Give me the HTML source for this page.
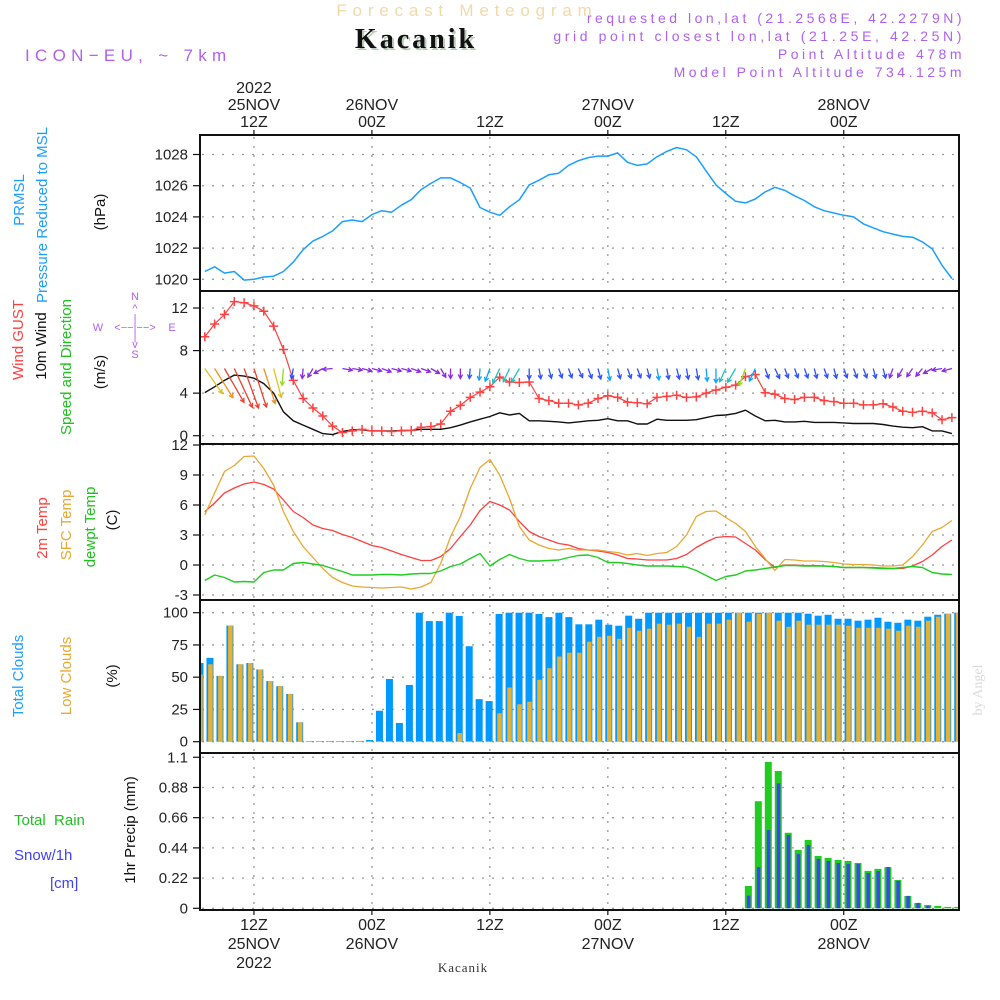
<!DOCTYPE html>
<html><head><meta charset="utf-8">
<style>
html,body{margin:0;padding:0;background:#fff;width:1000px;height:1000px;overflow:hidden}
svg{display:block}
text{font-family:"Liberation Sans",sans-serif}
</style></head>
<body>
<svg id="chart" width="1000" height="1000" viewBox="0 0 1000 1000" xmlns="http://www.w3.org/2000/svg">
<g id="header">
<text x="467" y="16" text-anchor="middle" font-size="17" fill="#f3d9a8" letter-spacing="5.8">Forecast Meteogram</text>
<text x="418" y="50" text-anchor="middle" font-size="28" font-weight="bold" fill="#b8ccb8" style="font-family:'Liberation Serif',serif" letter-spacing="3">Kacanik</text>
<text x="416" y="48" text-anchor="middle" font-size="28" font-weight="bold" fill="#111" style="font-family:'Liberation Serif',serif" letter-spacing="3">Kacanik</text>
<text x="25" y="61" font-size="17" fill="#b060f0" letter-spacing="5.3">ICON−EU, ~ 7km</text>
<text x="965" y="23" text-anchor="end" font-size="14" fill="#b060f0" letter-spacing="3.5">requested lon,lat (21.2568E, 42.2279N)</text>
<text x="965" y="41" text-anchor="end" font-size="14" fill="#b060f0" letter-spacing="3.6">grid point closest lon,lat (21.25E, 42.25N)</text>
<text x="965" y="59" text-anchor="end" font-size="14" fill="#b060f0" letter-spacing="3.5">Point Altitude 478m</text>
<text x="965" y="77" text-anchor="end" font-size="14" fill="#b060f0" letter-spacing="3.5">Model Point Altitude 734.125m</text>
</g>
<g id="leftlabels" font-size="15">
<text transform="translate(24,200) rotate(-90)" text-anchor="middle" fill="#1a9fff">PRMSL</text>
<text transform="translate(47,215) rotate(-90)" text-anchor="middle" fill="#1a9fff">Pressure Reduced to MSL</text>
<text transform="translate(105,212) rotate(-90)" text-anchor="middle" fill="#111">(hPa)</text>
<text transform="translate(23,340) rotate(-90)" text-anchor="middle" fill="#ff4040">Wind GUST</text>
<text transform="translate(46,346) rotate(-90)" text-anchor="middle" fill="#111">10m Wind</text>
<text transform="translate(71,367) rotate(-90)" text-anchor="middle" fill="#20c020">Speed and Direction</text>
<text transform="translate(105,372) rotate(-90)" text-anchor="middle" fill="#111">(m/s)</text>
<g font-size="11" fill="#b060f0" text-anchor="middle">
<text x="135" y="300">N</text><text x="135" y="312">^</text><text x="135" y="322">|</text>
<text x="98" y="331">W</text><text x="135" y="331">&lt;−−|−−&gt;</text><text x="172" y="331">E</text>
<text x="135" y="340">|</text><text x="135" y="348">v</text><text x="135" y="358">S</text>
</g>
<text transform="translate(47,528) rotate(-90)" text-anchor="middle" fill="#ff4040">2m Temp</text>
<text transform="translate(71,525) rotate(-90)" text-anchor="middle" fill="#e8a830">SFC Temp</text>
<text transform="translate(95,527) rotate(-90)" text-anchor="middle" fill="#20c020">dewpt Temp</text>
<text transform="translate(117,520) rotate(-90)" text-anchor="middle" fill="#111">(C)</text>
<text transform="translate(23,676) rotate(-90)" text-anchor="middle" fill="#1a9fff">Total Clouds</text>
<text transform="translate(71,676) rotate(-90)" text-anchor="middle" fill="#e8a830">Low Clouds</text>
<text transform="translate(117,676) rotate(-90)" text-anchor="middle" fill="#111">(%)</text>
<text x="14" y="825" fill="#20c020" xml:space="preserve">Total  Rain</text>
<text x="14" y="860" fill="#4040ff">Snow/1h</text>
<text x="50" y="888" fill="#4040ff">[cm]</text>
<text transform="translate(135,830) rotate(-90)" text-anchor="middle" fill="#111">1hr Precip (mm)</text>
</g>
<text transform="translate(982,690) rotate(-90)" text-anchor="middle" font-size="14" fill="#d8dcd8" style="font-family:'Liberation Serif',serif">by Angel</text>
<text x="463" y="972" text-anchor="middle" font-size="13" fill="#333" style="font-family:'Liberation Serif',serif" letter-spacing="1">Kacanik</text>
<defs>
<clipPath id="plotclip"><rect x="201" y="130" width="757" height="790"/></clipPath>
</defs>
<g id="grid"></g>
<g id="marks" clip-path="url(#plotclip)"></g>
<g id="axes"></g>
</svg>
<script>
// ---- data (hourly from 07Z 25NOV 2022) ----
const timeTickIdx = [5, 17, 29, 41, 53, 65];
const topTickLabels = [["2022","25NOV","12Z"],["26NOV","00Z"],["12Z"],["27NOV","00Z"],["12Z"],["28NOV","00Z"]];
const botTickLabels = [["12Z","25NOV","2022"],["00Z","26NOV"],["12Z"],["00Z","27NOV"],["12Z"],["00Z","28NOV"]];
const pressure = [1020.5,1020.8,1020.4,1020.5,1019.95,1020.0,1020.15,1020.2,1020.5,1021.1,1021.9,1022.45,1022.75,1023.1,1023.7,1023.8,1023.7,1024.15,1024.4,1024.3,1024.75,1025.1,1025.75,1026.15,1026.5,1026.5,1026.2,1025.85,1024.6,1024.3,1024.1,1024.65,1025.1,1026.05,1026.35,1026.7,1026.8,1027.3,1027.6,1027.8,1027.9,1027.9,1028.1,1027.5,1027.3,1027.4,1027.85,1028.2,1028.45,1028.3,1027.85,1026.95,1026.05,1025.5,1025.0,1024.9,1025.15,1025.6,1025.9,1025.7,1025.35,1025.05,1024.65,1024.4,1024.25,1024.1,1024.0,1023.55,1023.3,1023.05,1022.9,1022.75,1022.7,1022.4,1021.95,1020.9,1020.05];
const pressureTicks = [1020,1022,1024,1026,1028];
const gust = [9.3,10.5,11.4,12.6,12.5,12.2,11.7,10.3,8.1,5.2,3.5,2.6,1.85,0.9,0.3,0.45,0.6,0.45,0.45,0.4,0.45,0.5,0.8,0.85,1.1,2.3,2.85,3.6,4.1,4.6,5.5,5.05,5.0,5.05,3.5,3.3,3.05,3.05,2.9,3.05,3.5,3.75,3.6,3.15,3.1,3.0,3.6,3.7,3.8,3.6,3.65,4.0,4.3,4.55,4.75,5.55,5.75,4.05,3.9,3.5,3.4,3.6,3.6,3.3,3.2,3.05,3.05,2.9,2.9,3.0,2.7,2.3,2.2,2.3,2.15,1.5,1.7];
const wind10m = [4.05,4.6,5.2,5.7,5.6,5.4,4.9,4.0,2.25,1.4,1.0,0.6,0.2,0.1,0.4,0.55,0.55,0.45,0.45,0.45,0.5,0.5,0.6,0.6,0.6,0.75,1.0,1.3,1.55,1.8,2.15,1.95,2.1,1.4,1.4,1.35,1.3,1.2,1.3,1.4,1.45,1.6,1.4,1.4,1.1,1.1,1.55,1.45,1.45,1.45,1.5,1.7,1.9,1.95,2.1,2.4,1.85,1.4,1.45,1.3,1.3,1.35,1.25,1.25,1.25,1.2,1.15,1.15,1.15,1.05,0.9,0.8,0.75,0.85,0.45,0.45,0.2];
const windHeading = [55,58,60,65,70,72,72,75,95,100,95,120,150,175,10,10,15,15,20,15,15,20,20,30,60,90,90,95,95,110,115,115,120,90,80,75,70,70,65,70,75,80,75,70,70,75,80,80,75,80,80,85,90,115,120,110,115,70,65,70,70,70,75,70,75,70,70,70,75,75,110,120,125,130,150,170,165];
const windTicks = [0,4,8,12];
const temp2m = [5.33,6.2,7.2,7.7,8.1,8.3,8.05,7.6,6.5,5.35,4.75,4.0,3.65,3.45,3.05,2.75,2.35,1.95,1.75,1.4,1.05,0.75,0.45,0.45,0.85,1.65,2.85,4.0,5.45,6.35,6.0,5.5,4.35,3.35,2.85,2.5,2.15,2.0,1.65,1.5,1.4,1.25,1.0,0.65,0.6,0.5,0.5,0.5,0.65,1.05,1.75,2.3,2.75,2.85,2.8,2.15,1.5,0.55,-0.25,0,0,-0.05,-0.05,-0.1,-0.15,-0.25,-0.25,-0.25,-0.25,-0.3,-0.35,-0.35,-0.1,0.35,1.0,1.85,2.5];
const tempSfc = [5.0,7.2,9.35,9.95,10.85,10.9,9.65,8.0,5.35,3.35,1.85,0.75,-0.35,-1.25,-1.75,-2.1,-2.2,-2.25,-2.3,-2.25,-2.2,-2.4,-2.2,-1.75,0.15,2.85,4.85,7.65,9.75,10.55,9.0,6.65,3.85,2.5,2.0,1.65,1.5,1.65,1.5,1.5,1.5,1.35,1.25,1.0,1.15,0.95,1.15,1.25,1.85,3.0,4.85,5.35,5.4,4.75,4.15,3.35,1.85,0.65,-0.55,0.55,0.5,0.4,0.4,0.35,0.25,0.1,0.05,0.05,0,-0.1,-0.1,0,0.85,2.0,3.35,3.75,4.45];
const dewpt = [-1.55,-1.0,-1.25,-1.7,-1.65,-1.7,-0.75,-0.5,-0.5,0.15,0.25,0.1,-0.05,-0.35,-0.65,-1.0,-1.0,-1.0,-0.95,-0.95,-1.0,-0.9,-0.85,-0.85,-0.6,-0.15,0.1,0.65,1.15,-0.1,0.55,1.05,0.65,0.4,0.4,0.45,0.5,0.75,0.95,1.0,0.75,0.25,0.25,0.15,0,-0.1,-0.1,-0.1,-0.15,-0.2,-0.55,-1.05,-1.55,-1.15,-1.0,-0.6,-0.5,-0.35,-0.2,-0.05,-0.05,-0.1,-0.1,-0.1,-0.15,-0.25,-0.25,-0.25,-0.3,-0.35,-0.35,-0.25,-0.15,-0.25,-0.75,-0.9,-0.95];
const tempTicks = [-3,0,3,6,9,12];
const cloudTotal = [61,65,51,90,60,61,56,47,43,37,15,0.5,0.5,0.5,0.5,0.5,0.5,1.3,24,48.6,14.5,44,100,93.5,93.5,100,97.5,74,33,31.5,99,100,100,100,99,96.6,100,96.6,91,91,94.6,90.7,89.9,97.7,95.3,100,100,100,100,100,100,100,100,100,100,100,100,100,100,100,100,99.2,97.7,98.4,95.3,95.3,93.8,94.6,96.1,93,92.2,94.6,93.8,96.9,98.4,99.2,100];
const cloudLow = [52,60,51,90,60,61,56,47,43,37,15,0.5,0.5,0.5,0.5,0.5,0.5,0.4,0.4,0.4,0.4,0.4,0.4,0.4,0.4,0.4,6.7,0.4,0.4,0.4,22,42,29,31,48,57,66,69,69,77.5,81.3,82.1,79.8,88.3,86,87.6,91.5,90.7,91.5,89.1,81.3,91.5,91.5,94.6,100,93,99.2,100,93.8,89.1,93.8,90.7,90.7,90.7,90.7,89.9,88.3,88.3,88.3,87.6,86,89.9,89.1,93.8,96.9,99.2,100];
const cloudTicks = [0,25,50,75,100];
const precipTotal = [0,0,0,0,0,0,0,0,0,0,0,0,0,0,0,0,0,0,0,0,0,0,0,0,0,0,0,0,0,0,0,0,0,0,0,0,0,0,0,0,0,0,0,0,0,0,0,0,0,0,0,0,0,0,0,0.163,0.78,1.066,1.0,0.55,0.425,0.498,0.381,0.367,0.352,0.345,0.33,0.272,0.287,0.30,0.206,0.09,0.039,0.024,0.017,0.01,0.01];
const snow = [0,0,0,0,0,0,0,0,0,0,0,0,0,0,0,0,0,0,0,0,0,0,0,0,0,0,0,0,0,0,0,0,0,0,0,0,0,0,0,0,0,0,0,0,0,0,0,0,0,0,0,0,0,0,0,0.092,0.30,0.57,0.91,0.534,0.396,0.461,0.36,0.345,0.33,0.323,0.323,0.257,0.272,0.30,0.2,0.09,0.039,0.017,0,0,0];
const precipTicks = [0,0.22,0.44,0.66,0.88,1.1];
const precipTickLabels = ["0","0.22","0.44","0.66","0.88","1.1"];

// ---- axes ----
const NS="http://www.w3.org/2000/svg";
const X0=200, X1=959;
const xH = i => 204.8 + 9.83*i;
const xB = k => 200 + 9.97*k;
const yP = v => 279.3 - (v-1020)*15.6;
const yW = v => 435.7 - v*10.64;
const yT = v => 565 - v*10;
const yC = v => 741.7 - v*1.29;
const yR = v => 908.3 - v*137.3;
const panels=[[135,291],[291,444],[444,600],[600,753],[753,910]];

function mk(tag, attrs, parent){
  const e=document.createElementNS(NS,tag);
  for(const k in attrs) e.setAttribute(k,attrs[k]);
  parent.appendChild(e); return e;
}
const grid=document.getElementById('grid');
const marks=document.getElementById('marks');
const axes=document.getElementById('axes');

timeTickIdx.forEach(i=>{
  const l=mk('line',{x1:xH(i),x2:xH(i),y1:137,y2:909,stroke:'#9a9a9a','stroke-width':1.3,'stroke-dasharray':'2,7'},grid);
  
  
});
function hgrid(ticks, yf, fmtArr, nm){
  ticks.forEach((t,j)=>{
    const y=yf(t);
    const g=mk('line',{x1:X0+2,x2:X1-2,y1:y,y2:y,stroke:'#9a9a9a','stroke-width':1.3,'stroke-dasharray':'2,8'},grid);
    
    
    const tk=mk('line',{x1:193,x2:X0,y1:y,y2:y,stroke:'#111','stroke-width':1.2},axes);
    
    
    const tx=mk('text',{x:188,y:y+5,'text-anchor':'end','font-size':15,fill:'#222'},axes);
    tx.textContent = fmtArr ? fmtArr[j] : String(t);
    
    
  });
}
hgrid(pressureTicks,yP,null,'pressure');
hgrid(windTicks,yW,null,'wind');
hgrid(tempTicks,yT,null,'temp');
hgrid(cloudTicks,yC,null,'cloud');
hgrid(precipTicks,yR,precipTickLabels,'precip');

panels.forEach((p,j)=>{
  const r=mk('rect',{x:X0,y:p[0],width:X1-X0,height:p[1]-p[0],fill:'none',stroke:'#111','stroke-width':2},axes);
  
  
});
timeTickIdx.forEach((i,j)=>{
  const x=xH(i);
  mk('line',{x1:x,x2:x,y1:130,y2:135,stroke:'#111','stroke-width':1.2},axes);
  mk('line',{x1:x,x2:x,y1:910,y2:915,stroke:'#111','stroke-width':1.2},axes);
  const top=topTickLabels[j];
  top.forEach((s,k)=>{
    const t=mk('text',{x:x,y:127-(top.length-1-k)*17,'text-anchor':'middle','font-size':16,fill:'#222'},axes);
    t.textContent=s;
    
    
  });
  botTickLabels[j].forEach((s,k)=>{
    const t=mk('text',{x:x,y:930+k*19,'text-anchor':'middle','font-size':16,fill:'#222'},axes);
    t.textContent=s;
    
    
  });
});

function line(arr, xf, yf, color, nm, w){
  const pts=arr.map((v,i)=>xf(i).toFixed(1)+','+yf(v).toFixed(1)).join(' ');
  const p=mk('polyline',{points:pts,fill:'none',stroke:color,'stroke-width':w||1.4,'stroke-linejoin':'round'},marks);
  
  
}
line(pressure,xH,yP,'#1a9fff','pressure-line',1.5);
line(wind10m,xH,yW,'#111','wind-10m-line',1.4);
line(gust,xH,yW,'#ff4040','wind-gust-line',1.2);
gust.forEach((v,i)=>{
  const x=xH(i), y=yW(v);
  const m=mk('path',{d:`M${x-4.5},${y}H${x+4.5}M${x},${y-4.5}V${y+4.5}`,stroke:'#ff4040','stroke-width':1.5},marks);
  
  
});
function windColor(s){
  if(s<=1.0) return '#8a2be2';
  if(s<=1.5) return '#3050ff';
  if(s<=1.9) return '#10a0ff';
  if(s<=2.2) return '#20c0c0';
  if(s<=3.0) return '#90e020';
  if(s<=4.3) return '#e0c020';
  if(s<=5.0) return '#f09020';
  return '#f04030';
}
wind10m.forEach((s,i)=>{
  const a=windHeading[i]*Math.PI/180;
  const L=Math.max(10,7.5*s);
  const x0=xH(i), y0=368.5;
  const x1=x0+L*Math.cos(a), y1=y0+L*Math.sin(a);
  const h=4.5, b=0.5;
  const hx1=x1-h*Math.cos(a-b), hy1=y1-h*Math.sin(a-b);
  const hx2=x1-h*Math.cos(a+b), hy2=y1-h*Math.sin(a+b);
  const p=mk('path',{d:`M${x0},${y0}L${x1},${y1}M${hx1},${hy1}L${x1},${y1}L${hx2},${hy2}`,fill:'none',stroke:windColor(s),'stroke-width':1.3},marks);
  
  
});
line(temp2m,xH,yT,'#ff4040','temp-2m-line',1.3);
line(tempSfc,xH,yT,'#e8a830','temp-sfc-line',1.3);
line(dewpt,xH,yT,'#20cc20','dewpoint-line',1.4);
cloudTotal.forEach((v,k)=>{
  const x=xB(k);
  const r=mk('rect',{x:x-3.5,y:yC(v),width:7,height:yC(0)-yC(v),fill:'#0099ff'},marks);
  
  
});
cloudLow.forEach((v,k)=>{
  const x=xB(k);
  const r=mk('rect',{x:x-1.8,y:yC(v),width:4.5,height:yC(0)-yC(v),fill:'#e8b030'},marks);
  
  
});
precipTotal.forEach((v,k)=>{
  if(v<=0) return;
  const x=xB(k);
  const r=mk('rect',{x:x-3.5,y:yR(v),width:7,height:yR(0)-yR(v),fill:'#20cc20'},marks);
  
  
});
snow.forEach((v,k)=>{
  if(v<=0) return;
  const x=xB(k);
  const r=mk('rect',{x:x-1.5,y:yR(v),width:3.5,height:yR(0)-yR(v),fill:'#4040ff'},marks);
  
  
});
</script>
</body></html>
